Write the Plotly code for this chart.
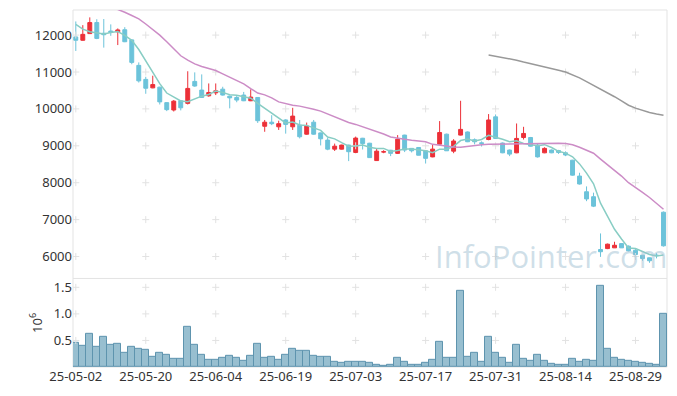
import plotly.graph_objects as go

dates = ["25-05-02","25-05-07","25-05-08","25-05-09","25-05-12","25-05-13","25-05-14","25-05-15","25-05-16","25-05-19",
         "25-05-20","25-05-21","25-05-22","25-05-23","25-05-26","25-05-27","25-05-28","25-05-29","25-05-30","25-06-02",
         "25-06-04","25-06-05","25-06-09","25-06-10","25-06-11","25-06-12","25-06-13","25-06-16","25-06-17","25-06-18",
         "25-06-19","25-06-20","25-06-23","25-06-24","25-06-25","25-06-26","25-06-27","25-06-30","25-07-01","25-07-02",
         "25-07-03","25-07-04","25-07-07","25-07-08","25-07-09","25-07-10","25-07-11","25-07-14","25-07-15","25-07-16",
         "25-07-17","25-07-18","25-07-21","25-07-22","25-07-23","25-07-24","25-07-25","25-07-28","25-07-29","25-07-30",
         "25-07-31","25-08-01","25-08-04","25-08-05","25-08-06","25-08-07","25-08-08","25-08-11","25-08-12","25-08-13",
         "25-08-14","25-08-18","25-08-19","25-08-20","25-08-21","25-08-22","25-08-25","25-08-26","25-08-27","25-08-28",
         "25-08-29","25-09-01","25-09-02","25-09-03","25-09-04"]

open_ = [11950,11860,12040,12340,12050,12110,12090,12145,11870,11180,
         10800,10570,10590,10170,9970,10220,10150,10745,10510,10355,
         10435,10535,10345,10310,10375,10220,10310,9530,9640,9515,
         9700,9515,9560,9315,9640,9350,9155,8910,8910,9020,
         8820,9205,9070,8600,8830,8880,8795,9290,8930,8955,
         8865,8700,9045,9315,8855,9290,9375,9165,9080,9170,
         9785,9075,8885,8810,9225,9225,9020,8810,8885,8870,
         8810,8610,8180,7755,7620,6190,6215,6235,6350,6280,
         6170,6035,5965,6040,7200]
high = [12370,12270,12480,12430,12435,12290,12180,12215,11880,11260,
        10870,10900,10600,10180,10240,10230,11020,10990,10935,10690,
        10690,10600,10360,10370,10460,10530,10320,9700,9830,9680,
        9720,10030,9700,9630,9700,9360,9220,9060,9030,9030,
        9250,9215,9080,8930,8880,8890,9290,9300,8940,8960,
        8870,9050,9670,9330,9180,10220,9390,9200,9120,9860,
        9850,9090,8900,9605,9515,9240,9050,8960,8900,8890,
        8850,8620,8270,7900,7730,6625,6350,6400,6360,6300,
        6200,6040,5970,6090,7220]
low = [11570,11850,12030,11890,11660,11980,11730,11810,11210,10715,
       10410,10560,10120,9940,9930,9960,10120,10600,10300,10330,
       10375,10360,10015,10180,10210,10210,9620,9380,9560,9430,
       9330,9430,9200,9300,9300,9010,8880,8860,8900,8585,
       8800,8900,8670,8590,8800,8720,8780,8830,8820,8740,
       8520,8690,9040,8860,8800,9280,9100,9040,8980,9150,
       9190,8800,8720,8800,9170,8980,8680,8800,8800,8780,
       8720,8190,7950,7500,7340,5990,6200,6230,6230,6140,
       6040,5885,5830,5950,6270]
close = [11860,12020,12340,11910,12010,12070,12140,11820,11260,10760,
         10560,10660,10190,9980,10210,10030,10555,10620,10310,10445,
         10490,10375,10300,10240,10220,10320,9680,9640,9600,9600,
         9580,9805,9245,9535,9315,9190,8910,8990,9020,8840,
         9210,9060,8680,8855,8840,8795,9180,8885,8865,8745,
         8660,8910,9360,8865,9130,9445,9110,9110,9065,9700,
         9200,8810,8775,9200,9335,8990,8700,8930,8810,8820,
         8750,8205,7965,7560,7365,6130,6335,6305,6235,6155,
         6055,5945,5885,6025,6290]

ma5 = [12290,12160,12090,12060,12030,12070,12094,11990,11860,11610,
       11308,11012,10686,10430,10320,10214,10193,10279,10345,10392,
       10484,10448,10384,10370,10325,10291,10152,10020,9892,9768,
       9620,9645,9566,9553,9496,9418,9239,9188,9085,8990,
       8994,9024,8962,8929,8929,8846,8870,8911,8913,8894,
       8867,8813,8908,8908,8985,9142,9182,9132,9172,9286,
       9237,9177,9110,9137,9064,9022,9000,9031,8953,8850,
       8802,8703,8510,8260,7969,7445,7071,6739,6474,6232,
       6217,6139,6055,6013,6040]
ma20 = [13150,13080,13000,12920,12850,12770,12700,12620,12530,12440,
        12300,12160,12000,11820,11620,11440,11320,11220,11150,11090,
        11040,10950,10860,10760,10680,10550,10430,10380,10300,10190,
        10140,10100,10075,10040,9990,9940,9860,9780,9700,9630,
        9580,9520,9460,9380,9320,9240,9200,9175,9150,9130,
        9110,9040,9010,8990,8970,8960,8990,9010,9030,9040,
        9045,9050,9050,9055,9055,9060,9060,9060,9065,9070,
        9065,9030,8960,8880,8800,8640,8490,8340,8180,8000,
        7880,7740,7600,7440,7280]
ma60 = [None]*59 + [11460,11430,11400,11360,11320,11270,11230,11190,11140,11100,
                    11050,11000,10930,10840,10740,10640,10540,10450,10330,10220,
                    10100,10020,9950,9900,9860,9830]

volume = [450000,390000,620000,375000,560000,410000,430000,270000,375000,340000,
          320000,190000,260000,225000,150000,150000,750000,410000,225000,130000,
          130000,170000,210000,170000,110000,210000,430000,170000,190000,130000,
          225000,340000,300000,300000,210000,190000,190000,94000,75000,94000,
          94000,94000,75000,40000,20000,40000,170000,94000,40000,40000,
          75000,130000,470000,170000,170000,1425000,190000,260000,94000,560000,
          260000,170000,75000,410000,150000,110000,225000,110000,56000,40000,
          40000,150000,94000,130000,110000,1520000,340000,170000,130000,110000,
          94000,75000,56000,40000,1010000]

price_ticks = [6000, 7000, 8000, 9000, 10000, 11000, 12000]
vol_ticks = [500000, 1000000, 1500000]
vol_tick_text = ["0.5", "1.0", "1.5"]
x_tick_idx = [0, 10, 20, 30, 40, 50, 60, 70, 80]

UP = "#ec3038"
DOWN = "#6cc3da"
GRID = "#e2e2e2"
FONT = "Noto Sans"

fig = go.Figure()

# grid crosses at tick intersections (drawn first, behind marks)
cx, cy = [], []
for i in x_tick_idx:
    for p in price_ticks:
        cx.append(dates[i]); cy.append(p)
fig.add_trace(go.Scatter(x=cx, y=cy, mode="markers",
                         marker=dict(symbol="cross-thin", size=5, line=dict(color=GRID, width=1)),
                         xaxis="x", yaxis="y", showlegend=False, hoverinfo="skip"))
cx2, cy2 = [], []
for i in x_tick_idx:
    for v in vol_ticks:
        cx2.append(dates[i]); cy2.append(v)
fig.add_trace(go.Scatter(x=cx2, y=cy2, mode="markers",
                         marker=dict(symbol="cross-thin", size=5, line=dict(color=GRID, width=1)),
                         xaxis="x2", yaxis="y2", showlegend=False, hoverinfo="skip"))

fig.add_trace(go.Candlestick(
    x=dates, open=open_, high=high, low=low, close=close,
    increasing=dict(line=dict(color=UP, width=1), fillcolor=UP),
    decreasing=dict(line=dict(color=DOWN, width=1), fillcolor=DOWN),
    whiskerwidth=0, xaxis="x", yaxis="y", showlegend=False, hoverinfo="skip"))

fig.add_trace(go.Scatter(x=dates, y=ma5, mode="lines", line=dict(color="#88cdc4", width=1.5),
                         xaxis="x", yaxis="y", showlegend=False, hoverinfo="skip"))
fig.add_trace(go.Scatter(x=dates, y=ma20, mode="lines", line=dict(color="#cc8cc6", width=1.5),
                         xaxis="x", yaxis="y", showlegend=False, hoverinfo="skip"))
fig.add_trace(go.Scatter(x=dates, y=ma60, mode="lines", line=dict(color="#999999", width=1.5),
                         xaxis="x", yaxis="y", showlegend=False, hoverinfo="skip"))

fig.add_trace(go.Bar(x=dates, y=volume, marker=dict(color="#98bfd0", line=dict(color="#5e94ae", width=1)),
                     xaxis="x2", yaxis="y2", showlegend=False, hoverinfo="skip"))

xr = [-0.4, 84.5]
# the page body adds an 8px offset; size the figure so the plot area lands where the reference has it
fig.update_layout(
    width=669, height=388,
    margin=dict(l=65, r=10, t=2, b=29),
    paper_bgcolor="white", plot_bgcolor="white",
    font=dict(family=FONT, size=13, color="#333333"),
    bargap=0.0,
    boxgap=0.2,
    xaxis=dict(domain=[0, 1], anchor="y", type="category", range=xr, showticklabels=False,
               showgrid=False, zeroline=False, rangeslider=dict(visible=False), automargin=False,
               categoryorder="array", categoryarray=dates),
    yaxis=dict(domain=[0.249, 1], range=[5415, 12680], tickvals=price_ticks,
               ticktext=[str(p) for p in price_ticks], automargin=False,
               showgrid=False, zeroline=False, ticks="", ticklen=0),
    xaxis2=dict(domain=[0, 1], anchor="y2", type="category", range=xr, automargin=False,
                tickvals=[dates[i] for i in x_tick_idx], ticktext=[dates[i] for i in x_tick_idx],
                showgrid=False, zeroline=False, categoryorder="array", categoryarray=dates,
                tickfont=dict(size=13, color="#333333")),
    yaxis2=dict(domain=[0, 0.247], range=[0, 1660000], tickvals=vol_ticks, ticktext=vol_tick_text,
                showgrid=False, zeroline=False, automargin=False,
                title=dict(text="10<sup>6</sup>", standoff=8, font=dict(size=13, color="#333333"))),
    shapes=[
        dict(type="rect", xref="paper", yref="paper", x0=0, x1=1, y0=0, y1=1,
             line=dict(color="#e3e3e3", width=1), layer="below"),
        dict(type="line", xref="paper", yref="paper", x0=0, x1=1, y0=0.248, y1=0.248,
             line=dict(color="#e3e3e3", width=1), layer="below"),
    ],
    annotations=[
        dict(text="InfoPointer.com", xref="paper", yref="paper", x=0.805, y=0.31,
             xanchor="center", yanchor="middle", showarrow=False,
             font=dict(family="Open Sans", size=31, color="rgba(160,192,210,0.5)"))
    ],
)

fig.write_html("out.html")
